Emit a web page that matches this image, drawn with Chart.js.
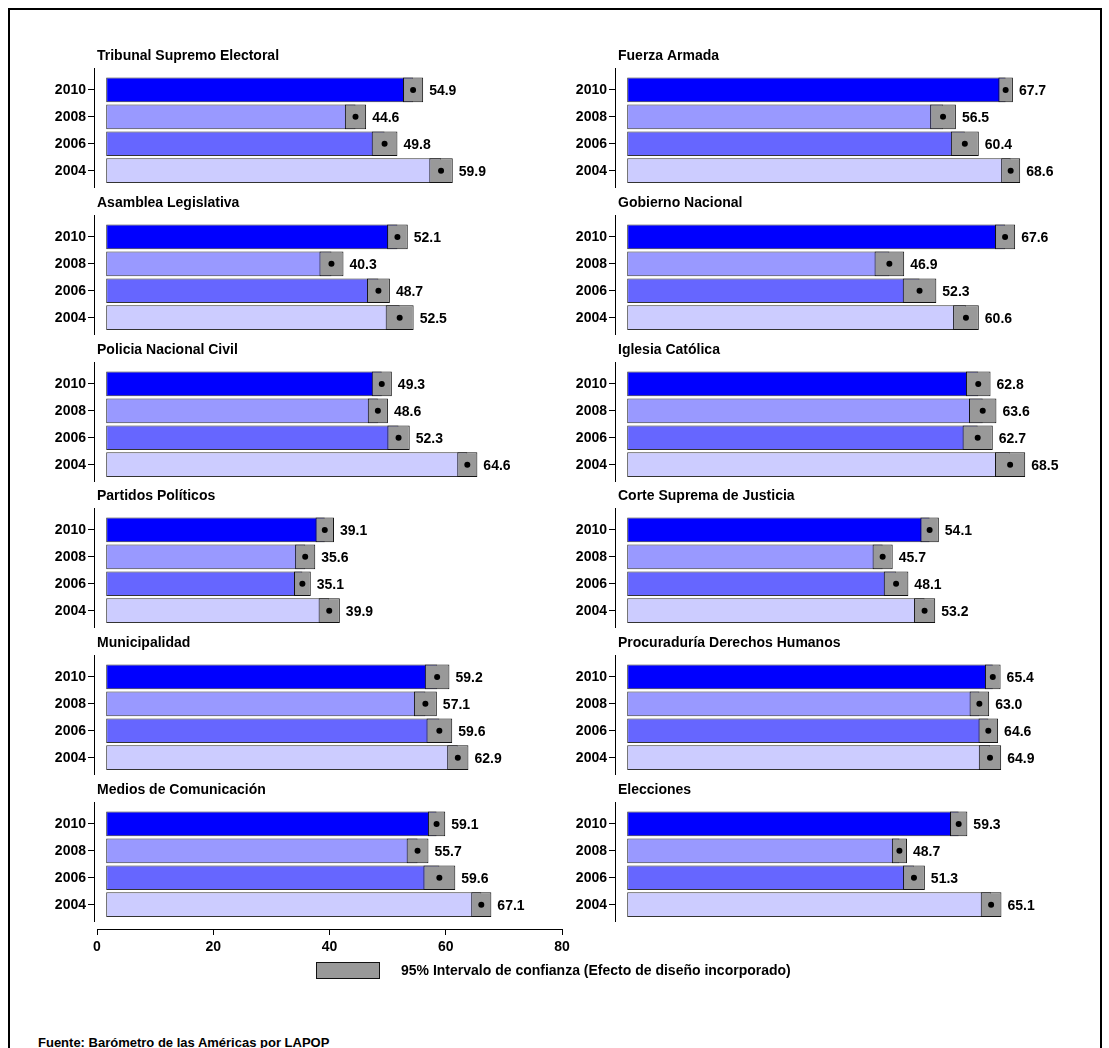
<!DOCTYPE html>
<html>
<head>
<meta charset="utf-8">
<script src="https://cdn.jsdelivr.net/npm/chart.js@4.4.1/dist/chart.umd.min.js"></script>
<style>
  body { margin: 0; background: #fff; overflow: hidden; }
  #frame { position: absolute; left: 8px; top: 8px; width: 1090px; height: 1100px; border: 2px solid #000; }
  .pn { position: absolute; }
  #src { position: absolute; left: 38px; top: 1036px; font: bold 13px "Liberation Sans", Arial, sans-serif; color: #000; line-height: 13px; }
</style>
</head>
<body>
<div id="frame"></div>
<div id="src">Fuente: Barómetro de las Américas por LAPOP</div>
<script>
  const years = ['2010', '2008', '2006', '2004'];
  const yearColors = ['#0000ff', '#9999ff', '#6666ff', '#ccccff'];
  const axisTicks = [0, 20, 40, 60, 80];

  // mean per year and half width of the 95% interval
  const tseVals = [54.9, 44.6, 49.8, 59.9];   const tseCI = [1.8, 1.9, 2.3, 2.1];
  const faVals = [67.7, 56.5, 60.4, 68.6];    const faCI = [1.3, 2.3, 2.5, 1.7];
  const alVals = [52.1, 40.3, 48.7, 52.5];    const alCI = [1.85, 2.15, 2.05, 2.5];
  const gnVals = [67.6, 46.9, 52.3, 60.6];    const gnCI = [1.8, 2.65, 3.0, 2.3];
  const pncVals = [49.3, 48.6, 52.3, 64.6];   const pncCI = [1.8, 1.8, 2.0, 1.8];
  const icVals = [62.8, 63.6, 62.7, 68.5];    const icCI = [2.2, 2.45, 2.7, 2.7];
  const ppVals = [39.1, 35.6, 35.1, 39.9];    const ppCI = [1.65, 1.8, 1.5, 1.9];
  const csjVals = [54.1, 45.7, 48.1, 53.2];   const csjCI = [1.65, 1.8, 2.2, 1.9];
  const munVals = [59.2, 57.1, 59.6, 62.9];   const munCI = [2.2, 2.05, 2.3, 1.9];
  const pdhVals = [65.4, 63.0, 64.6, 64.9];   const pdhCI = [1.4, 1.75, 1.75, 2.0];
  const medVals = [59.1, 55.7, 59.6, 67.1];   const medCI = [1.55, 1.95, 2.85, 1.8];
  const elVals = [59.3, 48.7, 51.3, 65.1];    const elCI = [1.55, 1.35, 1.95, 1.85];

  const panels = [
    ['Tribunal Supremo Electoral', tseVals, tseCI],
    ['Fuerza Armada', faVals, faCI],
    ['Asamblea Legislativa', alVals, alCI],
    ['Gobierno Nacional', gnVals, gnCI],
    ['Policia Nacional Civil', pncVals, pncCI],
    ['Iglesia Católica', icVals, icCI],
    ['Partidos Políticos', ppVals, ppCI],
    ['Corte Suprema de Justicia', csjVals, csjCI],
    ['Municipalidad', munVals, munCI],
    ['Procuraduría Derechos Humanos', pdhVals, pdhCI],
    ['Medios de Comunicación', medVals, medCI],
    ['Elecciones', elVals, elCI],
  ];

  const FONT = '"Liberation Sans", Arial, sans-serif';
  Chart.defaults.font.family = FONT;
  Chart.defaults.font.size = 14;
  Chart.defaults.font.weight = 'bold';
  Chart.defaults.color = '#000';

  function addCanvas(left, top, w, h) {
    const c = document.createElement('canvas');
    c.className = 'pn';
    c.width = w; c.height = h;
    c.style.left = left + 'px'; c.style.top = top + 'px';
    c.style.width = w + 'px'; c.style.height = h + 'px';
    document.body.appendChild(c);
    return c;
  }

  panels.forEach(([name, vals, ci], k) => {
    const col = k % 2, row = Math.floor(k / 2);
    const canvas = addCanvas(30 + col * 521, Math.round(42 + row * 146.8), 540, 146);

    const decor = {
      id: 'decor' + k,
      afterDraw(chart) {
        const { ctx, chartArea: a, scales } = chart;
        ctx.save();
        ctx.strokeStyle = '#000';
        ctx.lineWidth = 1;
        ctx.beginPath();
        ctx.moveTo(a.left - 0.5, a.top - 8.5);
        ctx.lineTo(a.left - 0.5, a.bottom + 6);
        ctx.stroke();
        ctx.fillStyle = '#000';
        ctx.font = 'bold 14px ' + FONT;
        ctx.textBaseline = 'middle';
        ctx.fillText(name, a.left + 2, a.top - 20);
        vals.forEach((v, i) => {
          const x = scales.x.getPixelForValue(v + ci[i]) + 6;
          const y = scales.y.getPixelForValue(i);
          ctx.fillText(v.toFixed(1), x, y + 1);
        });
        ctx.restore();
      }
    };

    new Chart(canvas, {
      type: 'bar',
      data: {
        labels: years,
        datasets: [
          {
            data: vals,
            backgroundColor: yearColors,
            borderColor: '#333',
            borderWidth: 1,
            borderSkipped: false,
            grouped: false,
            barPercentage: 0.92,
            categoryPercentage: 1,
            order: 3
          },
          {
            data: vals.map((v, i) => [v - ci[i], v + ci[i]]),
            backgroundColor: '#999999',
            borderColor: '#111',
            borderWidth: 1,
            borderSkipped: false,
            grouped: false,
            barPercentage: 0.92,
            categoryPercentage: 1,
            order: 2
          },
          {
            type: 'scatter',
            data: vals.map((v, i) => ({ x: v, y: years[i] })),
            pointRadius: 3,
            pointBackgroundColor: '#000',
            pointBorderWidth: 0,
            order: 1
          }
        ]
      },
      options: {
        indexAxis: 'y',
        responsive: false,
        animation: false,
        layout: { autoPadding: false, padding: { top: 34.5, bottom: 3.9, left: 0, right: 16.6 } },
        plugins: { legend: { display: false }, tooltip: { enabled: false } },
        scales: {
          x: { type: 'linear', min: -2, max: 80, display: false },
          y: {
            type: 'category',
            grid: { drawOnChartArea: false, offset: false, tickLength: 7, color: '#000' },
            border: { display: false },
            ticks: { padding: 2, color: '#000' },
            afterFit(s) { s.width = 65; s.paddingTop = 0; s.paddingBottom = 0; }
          }
        }
      },
      plugins: [decor]
    });
  });

  // shared value axis and the interval legend
  const axisCanvas = addCanvas(0, 880, 1109, 110);
  const legendDecor = {
    id: 'ciLegend',
    afterDraw(chart) {
      const ctx = chart.ctx;
      ctx.save();
      ctx.fillStyle = '#999999';
      ctx.fillRect(316, 82, 64, 17);
      ctx.strokeStyle = '#111';
      ctx.lineWidth = 1;
      ctx.strokeRect(316.5, 82.5, 63, 16);
      ctx.fillStyle = '#000';
      ctx.font = 'bold 14px ' + FONT;
      ctx.textBaseline = 'middle';
      ctx.fillText('95% Intervalo de confianza (Efecto de diseño incorporado)', 401, 91);
      ctx.restore();
    }
  };
  new Chart(axisCanvas, {
    type: 'scatter',
    data: { datasets: [{ data: [] }] },
    options: {
      responsive: false,
      animation: false,
      layout: { padding: { top: 0, bottom: 37, left: 97, right: 547 } },
      plugins: { legend: { display: false }, tooltip: { enabled: false } },
      scales: {
        x: {
          type: 'linear', min: axisTicks[0], max: axisTicks[axisTicks.length - 1],
          afterBuildTicks(s) { s.ticks = axisTicks.map(v => ({ value: v })); },
          grid: { drawOnChartArea: false, tickLength: 6, color: '#000' },
          border: { display: true, color: '#000' },
          ticks: { padding: 4, color: '#000' },
          afterFit(s) { s.height = 24; }
        },
        y: { display: false }
      }
    },
    plugins: [legendDecor]
  });
</script>
</body>
</html>
